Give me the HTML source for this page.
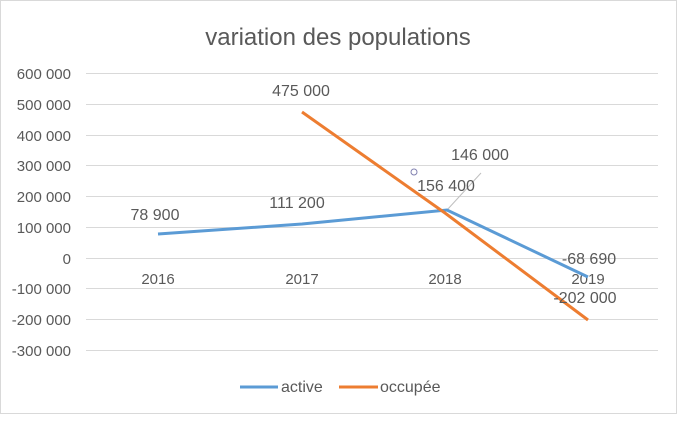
<!DOCTYPE html>
<html><head><meta charset="utf-8"><style>
body{margin:0;background:#fff}
svg text{font-family:"Liberation Sans",sans-serif;fill:#595959}
</style></head><body>
<svg width="684" height="420" xmlns="http://www.w3.org/2000/svg">
<rect x="0.5" y="0.5" width="676" height="413" fill="#fff" stroke="#d9d9d9"/>
<text x="338" y="45" font-size="24" text-anchor="middle">variation des populations</text>
<g stroke="#d9d9d9" stroke-width="1">
<line x1="86" x2="658" y1="73.5" y2="73.5"/>
<line x1="86" x2="658" y1="104.5" y2="104.5"/>
<line x1="86" x2="658" y1="135.5" y2="135.5"/>
<line x1="86" x2="658" y1="165.5" y2="165.5"/>
<line x1="86" x2="658" y1="196.5" y2="196.5"/>
<line x1="86" x2="658" y1="227.5" y2="227.5"/>
<line x1="86" x2="658" y1="258.5" y2="258.5"/>
<line x1="86" x2="658" y1="288.5" y2="288.5"/>
<line x1="86" x2="658" y1="319.5" y2="319.5"/>
<line x1="86" x2="658" y1="350.5" y2="350.5"/>
</g>
<g font-size="15" text-anchor="end">
<text x="71" y="79">600 000</text>
<text x="71" y="110">500 000</text>
<text x="71" y="141">400 000</text>
<text x="71" y="171">300 000</text>
<text x="71" y="202">200 000</text>
<text x="71" y="233">100 000</text>
<text x="71" y="264">0</text>
<text x="71" y="294">-100 000</text>
<text x="71" y="325">-200 000</text>
<text x="71" y="356">-300 000</text>
</g>
<g font-size="15" text-anchor="middle">
<text x="158" y="284">2016</text>
<text x="302" y="284">2017</text>
<text x="445" y="284">2018</text>
<text x="588" y="284">2019</text>
</g>
<line x1="447" y1="210" x2="481" y2="173" stroke="#bfbfbf" stroke-width="1"/>
<circle cx="414" cy="172" r="3" fill="none" stroke="#8080b0" stroke-width="1"/>
<polyline points="158,234 302,224 447,210 588,277" fill="none" stroke="#5b9bd5" stroke-width="3"/>
<polyline points="302,112 445,213 588,320" fill="none" stroke="#ed7d31" stroke-width="3"/>
<g font-size="16" text-anchor="middle" style="fill:#404040">
<text x="155" y="220">78 900</text>
<text x="297" y="208">111 200</text>
<text x="301" y="96">475 000</text>
<text x="480" y="160">146 000</text>
<text x="446" y="191">156 400</text>
<text x="589" y="264">-68 690</text>
<text x="585" y="303">-202 000</text>
</g>
<line x1="240" y1="387" x2="278" y2="387" stroke="#5b9bd5" stroke-width="3"/>
<text x="281" y="392" font-size="16">active</text>
<line x1="339" y1="387" x2="378" y2="387" stroke="#ed7d31" stroke-width="3"/>
<text x="380" y="392" font-size="16">occupée</text>
</svg>
</body></html>
